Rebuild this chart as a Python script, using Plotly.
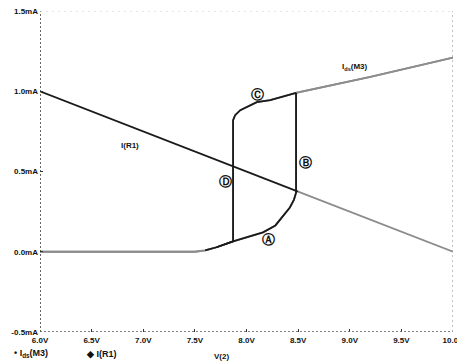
import plotly.graph_objects as go

# ---- data ----
x_ticks = [6.0, 6.5, 7.0, 7.5, 8.0, 8.5, 9.0, 9.5, 10.0]
x_tick_labels = ["6.0V", "6.5V", "7.0V", "7.5V", "8.0V", "8.5V", "9.0V", "9.5V", "10.0V"]
y_ticks = [-0.5, 0.0, 0.5, 1.0, 1.5]
y_tick_labels = ["-0.5mA", "0.0mA", "0.5mA", "1.0mA", "1.5mA"]
legend_labels = ["•\u00a0I<sub>ds</sub>(M3)", "◆\u00a0I(R1)"]

# I(R1): straight load line
ir1_v = [6.0, 8.5, 10.0]
ir1_i = [1.0, 0.375, 0.0]

# Ids(M3): rising sweep (lower branch, jump at ~8.48 V, upper branch)
ids_up_v = [6.0, 7.0, 7.5, 7.6, 7.71, 7.87, 8.03, 8.16, 8.28, 8.35, 8.42, 8.46, 8.48, 8.48, 9.2, 10.0]
ids_up_i = [0.0, 0.0, 0.0, 0.009, 0.028, 0.065, 0.096, 0.121, 0.164, 0.22, 0.276, 0.325, 0.368, 0.99, 1.09, 1.21]
# Ids(M3): falling sweep (upper branch, drop at ~7.87 V, lower branch)
ids_dn_v = [10.0, 9.2, 8.48, 8.23, 8.10, 7.94, 7.89, 7.87, 7.87, 7.71, 7.6, 7.5, 7.0, 6.0]
ids_dn_i = [1.21, 1.09, 0.99, 0.944, 0.932, 0.882, 0.851, 0.82, 0.065, 0.028, 0.009, 0.0, 0.0, 0.0]

DARK = "#1a1a1a"
GRAY = "#8c8c8c"
FONT = "Liberation Sans"

fig = go.Figure()

def seg(xs, ys, color, width=1.8):
    fig.add_trace(go.Scatter(x=xs, y=ys, mode="lines",
                             line=dict(color=color, width=width),
                             showlegend=False, hoverinfo="skip"))

# grey parts first, dark parts on top
seg(ids_up_v, ids_up_i, GRAY)
seg(ids_dn_v, ids_dn_i, GRAY)
seg(ir1_v[1:], ir1_i[1:], GRAY)
seg(ir1_v[:2], ir1_i[:2], DARK)
seg(ids_up_v[3:14], ids_up_i[3:14], DARK)
seg(ids_dn_v[2:10], ids_dn_i[2:10], DARK)

# dotted frame
shapes = [
    dict(type="line", xref="x", yref="y", x0=6, x1=6, y0=-0.5, y1=1.5,
         line=dict(color="#333", width=1.5, dash="2px,2px")),
    dict(type="line", xref="x", yref="y", x0=6, x1=10, y0=-0.5, y1=-0.5,
         line=dict(color="#555", width=1.5, dash="2px,2px")),
    dict(type="line", xref="x", yref="y", x0=10, x1=10, y0=-0.5, y1=1.5,
         line=dict(color="#999", width=1.2, dash="2px,3px")),
    dict(type="line", xref="x", yref="y", x0=6, x1=10, y0=1.5, y1=1.5,
         line=dict(color="#ccc", width=1.2, dash="2px,4px")),
]

lab = dict(family=FONT, size=8, color="#111", weight="bold")
leg = dict(family=FONT, size=9, color="#111", weight="bold")
circ = dict(family="DejaVu Sans", size=13, color="#111", weight="bold")
annotations = [
    dict(x=6.87, y=0.665, text="I(R1)", showarrow=False, font=lab),
    dict(x=9.05, y=1.15, text="I<sub>ds</sub>(M3)", showarrow=False, font=lab),
    dict(x=8.21, y=0.075, text="Ⓐ", showarrow=False, font=circ),
    dict(x=8.57, y=0.555, text="Ⓑ", showarrow=False, font=circ),
    dict(x=8.11, y=0.98, text="Ⓒ", showarrow=False, font=circ),
    dict(x=7.80, y=0.435, text="Ⓓ", showarrow=False, font=circ),
    dict(x=-0.068, y=-0.068, xref="paper", yref="paper", xanchor="left", yanchor="middle",
         text=legend_labels[0], showarrow=False, font=leg),
    dict(x=0.107, y=-0.068, xref="paper", yref="paper", xanchor="left", yanchor="middle",
         text=legend_labels[1], showarrow=False, font=leg),
    dict(x=0.44, y=-0.075, xref="paper", yref="paper", xanchor="center", yanchor="middle",
         text="V(2)", showarrow=False, font=lab),
]

# the page body adds an 8px offset, so margins are set to land the plot area
# at the reference position in the window
fig.update_layout(
    width=457, height=356,
    margin=dict(l=32, r=12, t=3, b=32),
    paper_bgcolor="white", plot_bgcolor="white",
    shapes=shapes, annotations=annotations,
    showlegend=False,
    xaxis=dict(range=[6, 10], tickvals=x_ticks, ticktext=x_tick_labels,
               showgrid=False, zeroline=False, showline=False, automargin=False,
               ticks="inside", ticklen=3, tickcolor="#333", ticklabeloverflow="allow",
               tickfont=lab, ticklabelstandoff=2),
    yaxis=dict(range=[-0.5, 1.5], tickvals=y_ticks, ticktext=y_tick_labels,
               showgrid=False, zeroline=False, showline=False, automargin=False,
               ticks="inside", ticklen=3, tickcolor="#333", ticklabeloverflow="allow",
               tickfont=lab, ticklabelstandoff=1),
)

fig.write_html("out.html")
